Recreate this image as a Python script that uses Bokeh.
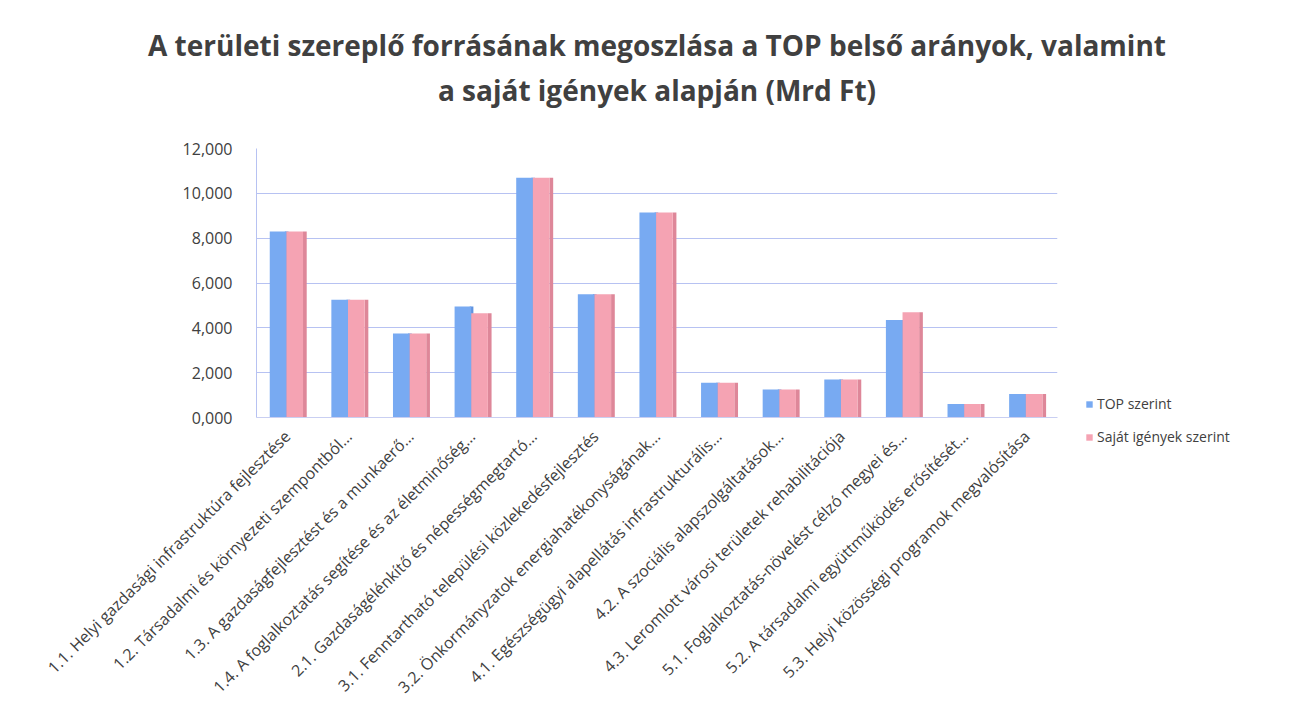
from math import pi
from bokeh.plotting import figure
from bokeh.models import (ColumnDataSource, FactorRange, Legend, LegendItem, CustomJSTickFormatter,
                          FixedTicker, Range1d, Title)
from bokeh.transform import dodge
from bokeh.embed import file_html
from bokeh.resources import INLINE

categories = [
    "1.1. Helyi gazdasági infrastruktúra fejlesztése",
    "1.2. Társadalmi és környezeti szempontból…",
    "1.3. A gazdaságfejlesztést és a munkaerő…",
    "1.4. A foglalkoztatás segítése és az életminőség…",
    "2.1. Gazdaságélénkítő és népességmegtartó…",
    "3.1. Fenntartható települési közlekedésfejlesztés",
    "3.2. Önkormányzatok energiahatékonyságának…",
    "4.1. Egészségügyi alapellátás infrastrukturális…",
    "4.2. A szociális alapszolgáltatások…",
    "4.3. Leromlott városi területek rehabilitációja",
    "5.1. Foglalkoztatás-növelést célzó megyei és…",
    "5.2. A társadalmi együttműködés erősítését…",
    "5.3. Helyi közösségi programok megvalósítása",
]
top_szerint = [8.30, 5.25, 3.75, 4.95, 10.70, 5.50, 9.15, 1.55, 1.25, 1.70, 4.35, 0.60, 1.05]
sajat_szerint = [8.30, 5.25, 3.75, 4.65, 10.70, 5.50, 9.15, 1.55, 1.25, 1.70, 4.70, 0.60, 1.05]
series_names = ["TOP szerint", "Saját igények szerint"]
y_ticks = [0, 2, 4, 6, 8, 10, 12]
title_lines = ["A területi szereplő forrásának megoszlása a TOP belső arányok, valamint",
               "a saját igények alapján (Mrd Ft)"]

src = ColumnDataSource(dict(cat=categories, top=top_szerint, sajat=sajat_szerint))

p = figure(
    frame_width=801, frame_height=269,
    x_range=FactorRange(*categories, range_padding=0),
    y_range=Range1d(0, 12),
    output_backend="svg", toolbar_location=None,
)
p.min_border_left = 256
p.min_border_right = 223
p.min_border_top = 148
p.min_border_bottom = 299

# title: second line added first so that it sits nearest the plot
for i, txt in enumerate(reversed(title_lines)):
    t = Title(text=txt, align="center", text_font="Open Sans", text_font_size="28px",
              text_font_style="bold", text_color="#404040",
              standoff=(80 if i == 0 else -70))
    p.add_layout(t, "above")

blue = "#78AAF2"
blue_dark = "#5F93E0"
pink = "#F5A3B3"
pink_dark = "#DE8799"

bw = 0.27
p.vbar(x=dodge("cat", -0.01, range=p.x_range), top="top", width=0.06, source=src,
       fill_color=blue_dark, line_color=None)
p.vbar(x=dodge("cat", 0.285, range=p.x_range), top="sajat", width=0.06, source=src,
       fill_color=pink_dark, line_color=None)
r1 = p.vbar(x=dodge("cat", -0.15, range=p.x_range), top="top", width=bw, source=src,
            fill_color=blue, line_color=None)
r2 = p.vbar(x=dodge("cat", 0.12, range=p.x_range), top="sajat", width=bw, source=src,
            fill_color=pink, line_color=None)

legend = Legend(items=[LegendItem(label=series_names[0], renderers=[r1]),
                       LegendItem(label=series_names[1], renderers=[r2])],
                location=(28, -29), border_line_color=None, background_fill_alpha=0,
                label_text_font="Open Sans", label_text_font_size="14px",
                label_text_color="#404040", glyph_width=8, glyph_height=8,
                spacing=14, label_standoff=4)
p.add_layout(legend, "right")

p.yaxis.ticker = FixedTicker(ticks=y_ticks)
p.yaxis.formatter = CustomJSTickFormatter(code="return tick.toFixed(3).replace('.', ',');")
p.yaxis.major_label_text_font = "Open Sans"
p.yaxis.major_label_text_font_size = "16px"
p.yaxis.major_label_text_color = "#404040"
p.yaxis.major_tick_line_color = None
p.yaxis.minor_tick_line_color = None
p.yaxis.axis_line_color = "#B7C2F2"
p.yaxis.major_label_standoff = 18

p.xaxis.major_label_orientation = pi / 4
p.xaxis.major_label_text_font = "Open Sans"
p.xaxis.major_label_text_font_size = "16px"
p.xaxis.major_label_text_color = "#404040"
p.xaxis.major_tick_line_color = None
p.xaxis.axis_line_color = "#C9CFF2"
p.xaxis.major_label_standoff = 10

p.xgrid.grid_line_color = None
p.ygrid.grid_line_color = "#B7C2F2"
p.ygrid.grid_line_width = 1
p.outline_line_color = None
p.background_fill_color = "white"
p.border_fill_color = "white"

open("out.html", "w").write(file_html(p, INLINE))
